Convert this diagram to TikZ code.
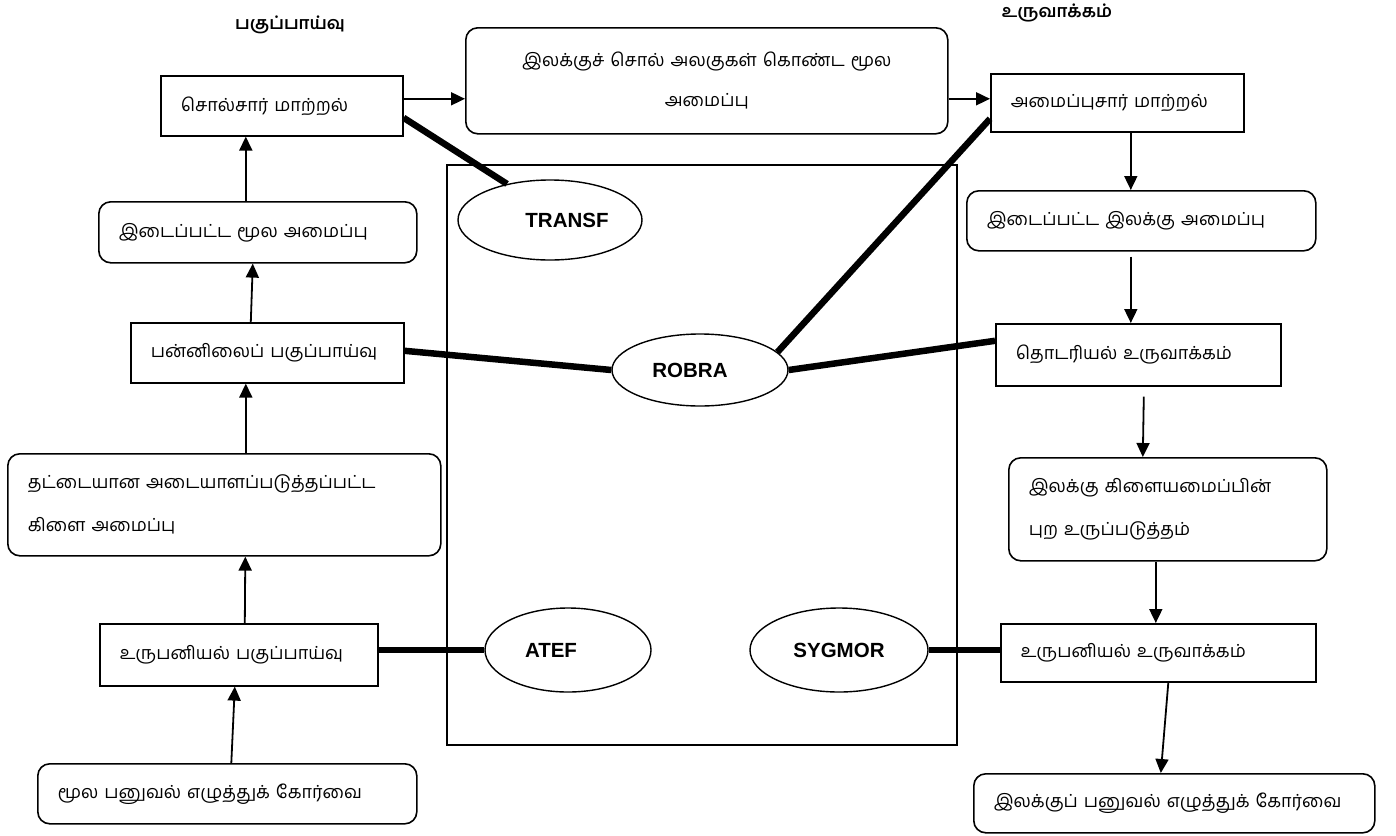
\documentclass[tikz,border=0pt]{standalone}
\usepackage{fontspec}
\newfontfamily\tamil[Script=Tamil]{Hind Madurai}
\newfontfamily\latin{Liberation Sans}
\usetikzlibrary{arrows.meta,shapes.geometric}

\tikzset{
  sqbox/.style={draw, line width=1.6pt, anchor=north west, inner xsep=20pt,
    inner ysep=0pt, align=left, font=\tamil\fontsize{18}{43}\selectfont},
  rbox/.style={sqbox, rounded corners=12pt},
  tool/.style={ellipse, draw, line width=1.4pt, inner sep=0pt,
    font=\latin\bfseries\fontsize{20.5}{22}\selectfont},
  link/.style={line width=6.5pt},
  flow/.style={line width=1.8pt, -{Triangle[length=14pt,width=13pt]}},
  head/.style={font=\tamil\bfseries\fontsize{17.5}{19}\selectfont}
}

\begin{document}
\begin{tikzpicture}[x=1pt,y=-1pt]
\useasboundingbox (0,0) rectangle (1396,835);

% column headings
\node[head] (hanalysis) at (290,25) {பகுப்பாய்வு};
\node[head] (hgeneration) at (1057,13) {உருவாக்கம்};

% analysis side
\node[sqbox, text width=202pt, minimum height=60pt] (L1) at (160,75) {சொல்சார் மாற்றல்};
\node[rbox, text width=278pt, minimum height=61pt] (L2) at (98,201) {இடைப்பட்ட மூல அமைப்பு};
\node[sqbox, text width=233pt, minimum height=60pt] (L3) at (130,322) {பன்னிலைப் பகுப்பாய்வு};
\node[rbox, text width=393pt, minimum height=102pt] (L4) at (7,453) {தட்டையான அடையாளப்படுத்தப்பட்ட\\கிளை அமைப்பு};
\node[sqbox, text width=238pt, minimum height=62pt] (L5) at (99,623) {உருபனியல் பகுப்பாய்வு};
\node[rbox, text width=339pt, minimum height=60pt] (L6) at (37,763) {மூல பனுவல் எழுத்துக் கோர்வை};

% transfer
\node[rbox, text width=442pt, minimum height=106pt, align=center,
  font=\tamil\fontsize{18}{40}\selectfont] (M) at (465,27)
  {இலக்குச் சொல் அலகுகள் கொண்ட மூல\\அமைப்பு};

% generation side
\node[sqbox, text width=213pt, minimum height=58pt] (R1) at (990,73) {அமைப்புசார் மாற்றல்};
\node[rbox, text width=309pt, minimum height=60pt] (R2) at (966,190) {இடைப்பட்ட இலக்கு அமைப்பு};
\node[sqbox, text width=245pt, minimum height=62pt] (R3) at (995,323) {தொடரியல் உருவாக்கம்};
\node[rbox, text width=278pt, minimum height=103pt] (R4) at (1008,457) {இலக்கு கிளையமைப்பின்\\புற உருப்படுத்தம்};
\node[sqbox, text width=275pt, minimum height=58pt] (R5) at (1000,623) {உருபனியல் உருவாக்கம்};
\node[rbox, text width=361pt, minimum height=59pt] (R6) at (973,773) {இலக்குப் பனுவல் எழுத்துக் கோர்வை};

% software frame and its components (labels set slightly off-centre)
\node[draw, line width=1.4pt, minimum width=510pt, minimum height=580pt] (frame) at (702,455) {};
\node[tool, minimum width=184pt, minimum height=80pt] (TRANSF) at (550,220) {\hspace*{34pt}TRANSF};
\node[tool, minimum width=176pt, minimum height=72pt] (ROBRA) at (700,370) {ROBRA\hspace*{20pt}};
\node[tool, minimum width=166pt, minimum height=84pt] (ATEF) at (568,650) {ATEF\hspace*{34pt}};
\node[tool, minimum width=178pt, minimum height=84pt] (SYGMOR) at (839,650) {SYGMOR};

% component links
\draw[link] ([yshift=-12pt]L1.east) -- (TRANSF.140);
\draw[link] ([yshift=-16pt]R1.west) -- (ROBRA.13);
\draw[link] ([yshift=2pt]L3.east) -- (ROBRA.west);
\draw[link] (ROBRA.east) -- ([yshift=14pt]R3.west);
\draw[link] (ATEF.west) -- (ATEF.west -| L5.east);
\draw[link] (SYGMOR.east) -- (SYGMOR.east -| R5.west);

% processing flow
\draw[flow] ([xshift=4pt]L6.north) -- ([xshift=-4pt]L5.south);
\draw[flow] ([xshift=6pt]L5.north) -- ([xshift=21pt]L4.south);
\draw[flow] ([xshift=21.5pt]L4.north) -- ([xshift=-21.5pt]L3.south);
\draw[flow] ([xshift=-16.5pt]L3.north) -- ([xshift=-5pt]L2.south);
\draw[flow] ([xshift=-12pt]L2.north) -- ([xshift=-36pt]L1.south);
\draw[flow] ([yshift=7pt]L1.east) -- ([yshift=7pt]L1.east -| M.west);
\draw[flow] ([yshift=-18pt]M.east) -- ([yshift=-18pt]M.east -| R1.west);
\draw[flow] ([xshift=13.5pt]R1.south) -- ([xshift=-10.5pt]R2.north);
\draw[flow] ([xshift=-10.5pt,yshift=-5pt]R2.south) -- ([xshift=-7.5pt]R3.north);
\draw[flow] ([xshift=5.5pt,yshift=-10pt]R3.south) -- ([xshift=-25pt]R4.north);
\draw[flow] ([xshift=-12pt]R4.south) -- ([xshift=-2.5pt]R5.north);
\draw[flow] ([xshift=10pt]R5.south) -- ([xshift=-13.5pt]R6.north);
\end{tikzpicture}
\end{document}
